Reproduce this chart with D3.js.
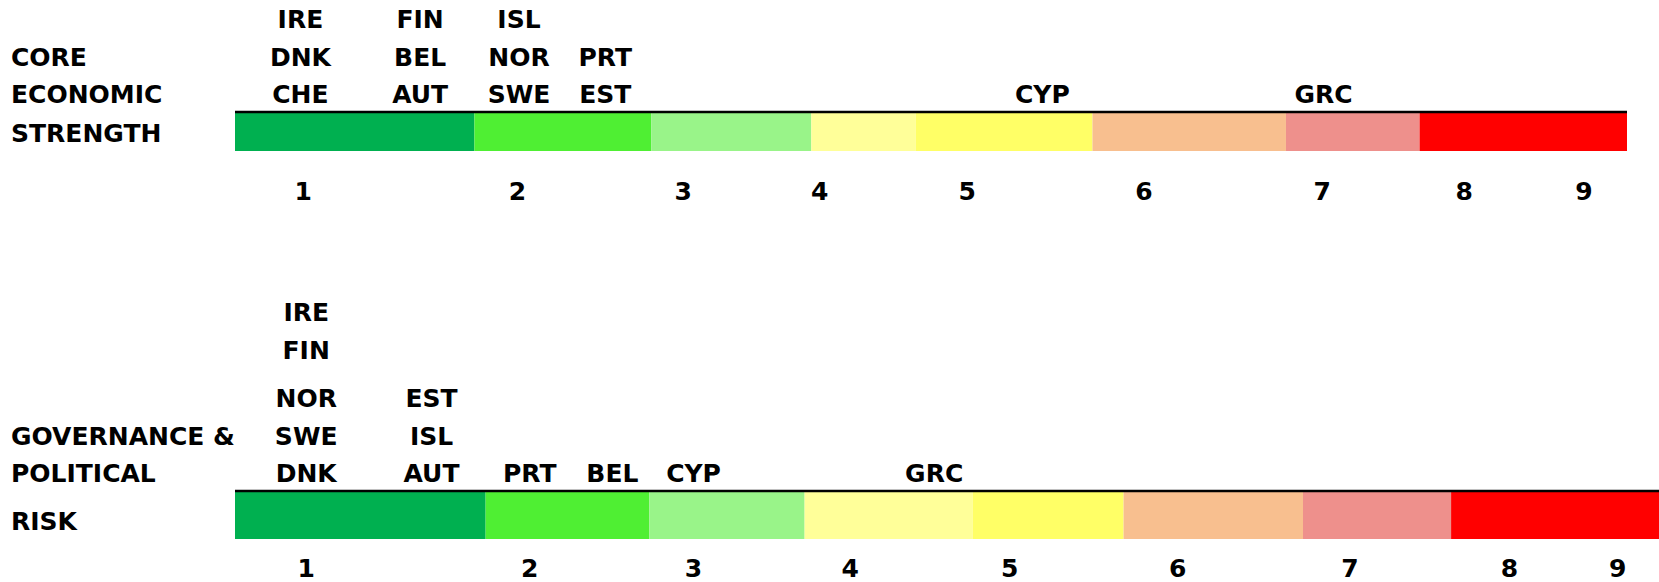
<!DOCTYPE html>
<html>
<head>
<meta charset="utf-8">
<script src="https://cdn.jsdelivr.net/npm/d3@7"></script>
<style>
    body { margin: 0; background: #fff; }
    svg text { font-family: "DejaVu Sans", sans-serif; font-weight: bold; font-size: 25px; fill: #000; }
</style>
</head>
<body>
<svg width="1659" height="582"></svg>
<script>
(function (d3) {
    'use strict';

    // rating scale 1..9, positions are in % of the bar length
    const ratings = [1, 2, 3, 4, 5, 6, 7, 8, 9];
    const bandColors = ['#00B050', '#4FEF33', '#99F489', '#FFFF99', '#FFFF66', '#F8BF8F', '#EE908C', '#FF0000'];

    const coreTitle = ['CORE', 'ECONOMIC', 'STRENGTH'];
    const coreEdges = [0, 17.2, 29.9, 41.4, 48.9, 61.6, 75.5, 85.1, 100];
    const coreTickPos = [4.9, 20.3, 32.2, 42.0, 52.6, 65.3, 78.1, 88.3, 96.9];
    const coreColPos = [4.7, 13.3, 20.4, 26.6, 58.0, 78.2];
    const coreColNames = [['IRE', 'DNK', 'CHE'], ['FIN', 'BEL', 'AUT'], ['ISL', 'NOR', 'SWE'], ['PRT', 'EST'], ['CYP'], ['GRC']];

    const govTitle = ['GOVERNANCE &', 'POLITICAL', 'RISK'];
    const govEdges = [0, 17.6, 29.1, 40.0, 51.8, 62.4, 75.0, 85.4, 100];
    const govTickPos = [5.0, 20.7, 32.2, 43.2, 54.4, 66.2, 78.3, 89.5, 97.1];
    const govColPos = [5.0, 13.8, 20.7, 26.5, 32.2, 49.1];
    const govColNames = [['IRE', 'FIN', 'NOR', 'SWE', 'DNK'], ['EST', 'ISL', 'AUT'], ['PRT'], ['BEL'], ['CYP'], ['GRC']];

    const svg = d3.select('svg');
    const lineH = 37.5;
    const capShift = 9; // baseline offset so text is centred on its y

    const paintPanel = (g, data, layout) => {
        const x = d3.scaleLinear().domain([0, 100]).range([layout.left, layout.right]);

        const bands = d3.range(bandColors.length).map(i => ({
            x0: data.edges[i], x1: data.edges[i + 1], color: bandColors[i]
        }));

        g.selectAll('rect.band').data(bands).enter().append('rect')
            .attr('class', 'band')
            .attr('x', d => x(d.x0))
            .attr('y', layout.top)
            .attr('width', d => x(d.x1) - x(d.x0))
            .attr('height', layout.height)
            .attr('fill', d => d.color);

        g.append('line')
            .attr('x1', x(0)).attr('x2', x(100))
            .attr('y1', layout.top).attr('y2', layout.top)
            .attr('stroke', '#000')
            .attr('stroke-width', 2.5);

        // rating numbers under the bar
        g.selectAll('text.tick').data(ratings).enter().append('text')
            .attr('class', 'tick')
            .attr('x', (d, i) => x(data.tickPos[i]))
            .attr('y', layout.tickY + capShift)
            .attr('text-anchor', 'middle')
            .text(d => d);

        // country columns, stacked upwards from the bar
        const cols = g.selectAll('g.col').data(data.colNames).enter().append('g')
            .attr('class', 'col')
            .attr('transform', (d, i) => 'translate(' + x(data.colPos[i]) + ',0)');

        cols.selectAll('text').data(d => d.slice().reverse()).enter().append('text')
            .attr('text-anchor', 'middle')
            .attr('y', (d, i) => layout.top - 18 - i * lineH - (i >= 3 ? layout.extraGap : 0) + capShift)
            .text(d => d);

        // panel title on the left
        const n = data.title.length;
        g.selectAll('text.title').data(data.title).enter().append('text')
            .attr('class', 'title')
            .attr('x', 11)
            .attr('y', (d, i) => {
                if (i === n - 1) return layout.titleLastY + capShift;
                return layout.top - 18 - (n - 2 - i) * lineH + capShift;
            })
            .text(d => d);
    };

    paintPanel(svg.append('g'),
        { title: coreTitle, edges: coreEdges, tickPos: coreTickPos, colPos: coreColPos, colNames: coreColNames },
        { left: 235, right: 1627, top: 112, height: 39, tickY: 191, titleLastY: 133, extraGap: 0 });

    paintPanel(svg.append('g'),
        { title: govTitle, edges: govEdges, tickPos: govTickPos, colPos: govColPos, colNames: govColNames },
        { left: 235, right: 1659, top: 491, height: 48, tickY: 568, titleLastY: 521, extraGap: 11 });

}(d3));
</script>
</body>
</html>
